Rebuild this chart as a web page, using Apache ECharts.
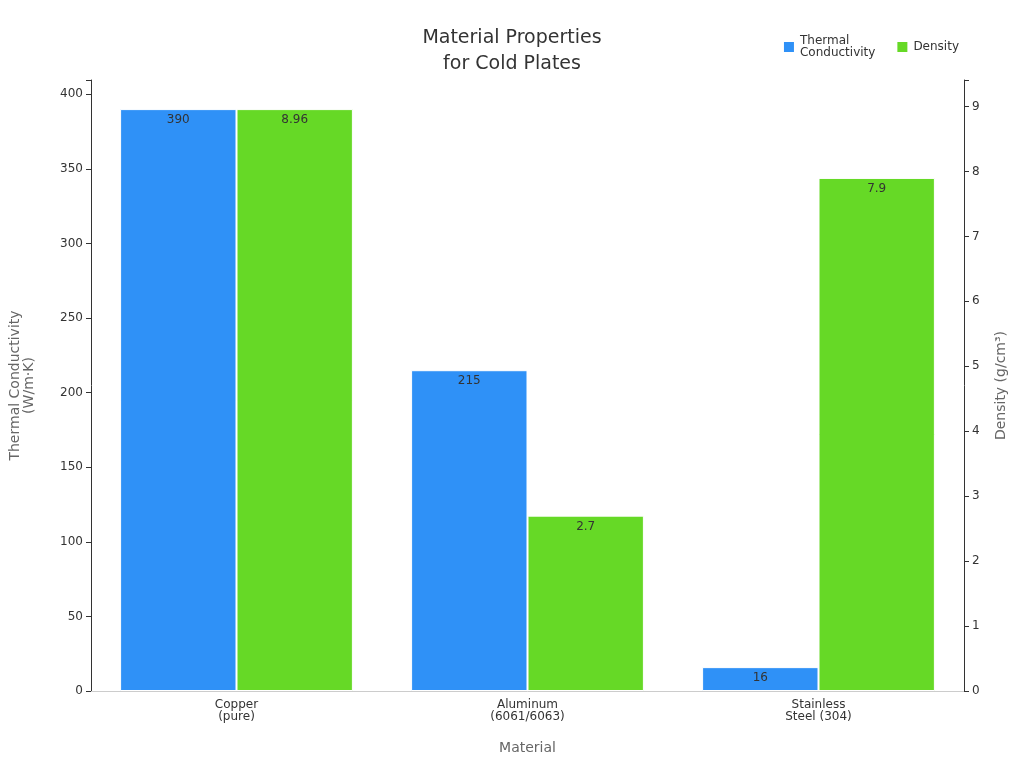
<!DOCTYPE html>
<html>
<head>
<meta charset="utf-8">
<script src="https://cdn.jsdelivr.net/npm/echarts@6/dist/echarts.min.js"></script>
<style>html,body{margin:0;padding:0;background:#fff}#main{width:1024px;height:768px}</style>
</head>
<body>
<div id="main"></div>
<script>
var materials = ['Copper\n(pure)', 'Aluminum\n(6061/6063)', 'Stainless\nSteel (304)'];
var conductivity = [390, 215, 16];
var density = [8.96, 2.7, 7.9];

var myChart = echarts.init(document.getElementById('main'), null, { renderer: 'canvas' });
var font = 'DejaVu Sans';
var option = {
    textStyle: { fontFamily: font },
    title: {
        text: 'Material Properties\nfor Cold Plates',
        left: 'center', top: 20,
        textStyle: { fontFamily: font, fontSize: 19, fontWeight: 'normal', color: '#333', lineHeight: 26 }
    },
    legend: {
        top: 30, right: 60,
        itemWidth: 12, itemHeight: 12, itemGap: 20,
        icon: 'rect',
        textStyle: { fontFamily: font, fontSize: 12, color: '#333' },
        data: ['Thermal\nConductivity', 'Density']
    },
    grid: { left: 87, right: 60, top: 80, bottom: 77 },
    xAxis: {
        type: 'category',
        data: materials,
        name: 'Material', nameLocation: 'middle', nameGap: 50,
        nameTextStyle: { fontSize: 14, color: '#666' },
        axisTick: { show: false },
        axisLine: { lineStyle: { color: '#ccc' } },
        axisLabel: { color: '#333', fontSize: 12 }
    },
    yAxis: [{
        type: 'value', min: 0, max: 409.5, interval: 50,
        name: 'Thermal Conductivity\n(W/m·K)', nameLocation: 'middle', nameGap: 55,
        nameTextStyle: { fontSize: 14, color: '#666' },
        splitLine: { show: false },
        axisLine: { show: true, lineStyle: { color: '#333' } },
        axisTick: { show: true },
        axisLabel: { color: '#333', fontSize: 12, formatter: function (v) { return v % 50 === 0 ? v : ''; } }
    }, {
        type: 'value', min: 0, max: 9.408, interval: 1,
        name: 'Density (g/cm³)', nameLocation: 'middle', nameGap: 30,
        nameTextStyle: { fontSize: 14, color: '#666' },
        splitLine: { show: false },
        axisLine: { show: true, lineStyle: { color: '#333' } },
        axisTick: { show: true },
        axisLabel: { color: '#333', fontSize: 12, formatter: function (v) { return Number.isInteger(v) ? v : ''; } }
    }],
    series: [{
        name: 'Thermal\nConductivity', type: 'bar', yAxisIndex: 0,
        data: conductivity, barGap: '0%', barCategoryGap: '20%',
        itemStyle: { color: '#2f91f7', borderColor: '#fff', borderWidth: 1 },
        label: { show: true, position: 'insideTop', color: '#333', fontSize: 12 }
    }, {
        name: 'Density', type: 'bar', yAxisIndex: 1,
        data: density,
        itemStyle: { color: '#66d926', borderColor: '#fff', borderWidth: 1 },
        label: { show: true, position: 'insideTop', color: '#333', fontSize: 12 }
    }]
};
myChart.setOption(option);
window.addEventListener('resize', myChart.resize);
</script>
</body>
</html>
